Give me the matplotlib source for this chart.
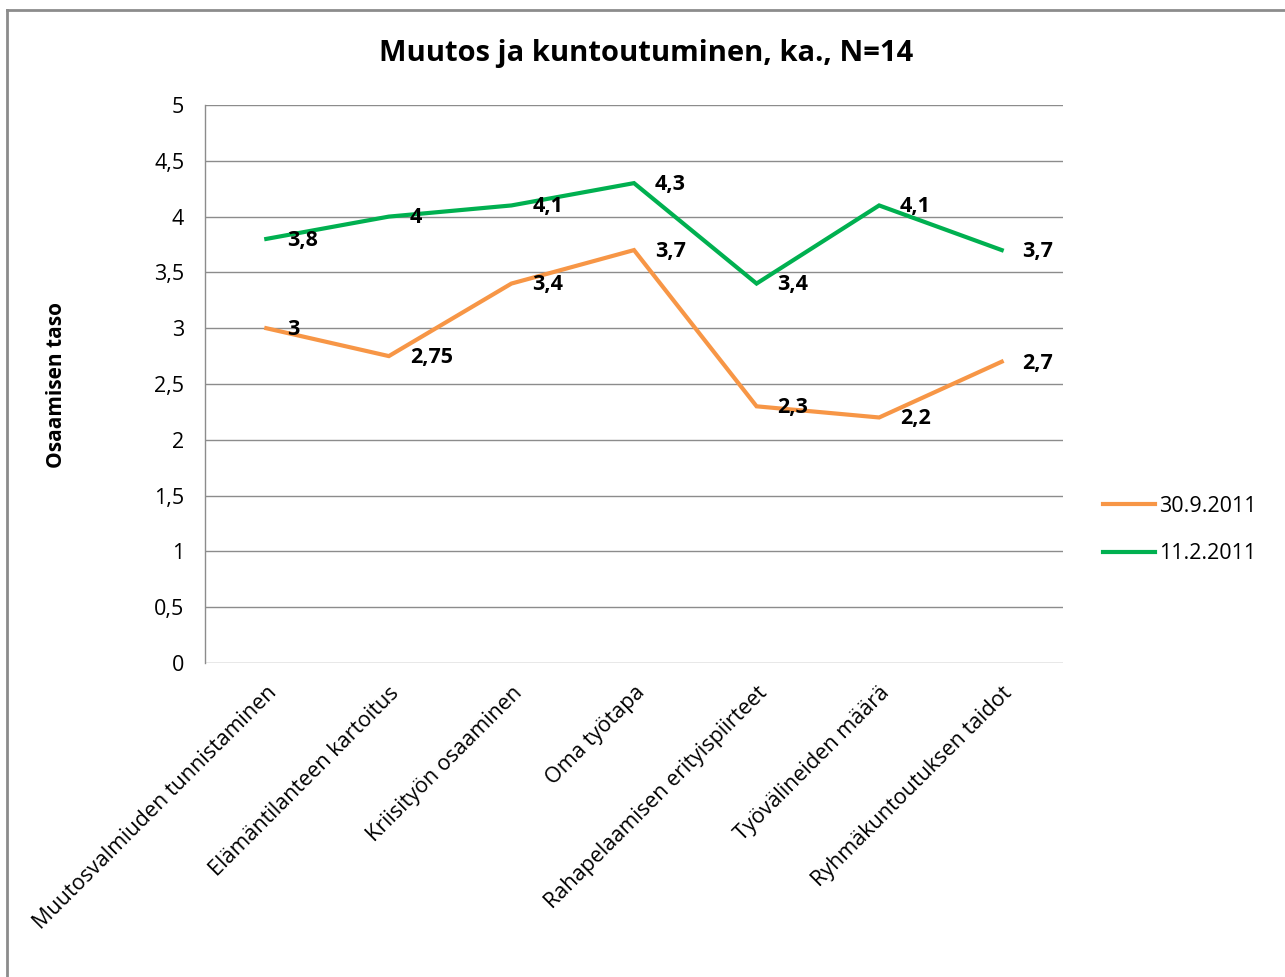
import matplotlib
matplotlib.use('Agg')
import matplotlib.pyplot as plt
from matplotlib.lines import Line2D

plt.rcParams['font.family'] = ['Open Sans', 'DejaVu Sans']

# Data
categories = [
	"Muutosvalmiuden tunnistaminen",
	"Elämäntilanteen kartoitus",
	"Kriisityön osaaminen",
	"Oma työtapa",
	"Rahapelaamisen erityispiirteet",
	"Työvälineiden määrä",
	"Ryhmäkuntoutuksen taidot",
]
autumn = [3, 2.75, 3.4, 3.7, 2.3, 2.2, 2.7]
spring = [3.8, 4, 4.1, 4.3, 3.4, 4.1, 3.7]
autumn_labels = ["3", "2,75", "3,4", "3,7", "2,3", "2,2", "2,7"]
spring_labels = ["3,8", "4", "4,1", "4,3", "3,4", "4,1", "3,7"]
y_ticks = [0, 0.5, 1, 1.5, 2, 2.5, 3, 3.5, 4, 4.5, 5]
y_tick_labels = ["0", "0,5", "1", "1,5", "2", "2,5", "3", "3,5", "4", "4,5", "5"]
series_names = ["30.9.2011", "11.2.2011"]

orange = '#F79646'
green = '#00B050'
grid_col = '#8C8C8C'

fig = plt.figure(figsize=(12.85, 9.77), dpi=100)
W, H = 1285, 977
ax = fig.add_axes([205 / W, 1 - 663 / H, (1063 - 205) / W, (663 - 105) / H])

x = list(range(len(categories)))
ax.plot(x, autumn, color=orange, lw=3, solid_joinstyle='miter', label=series_names[0], zorder=3)
ax.plot(x, spring, color=green, lw=3, solid_joinstyle='miter', label=series_names[1], zorder=3)

# Data labels
for xi, v, t in zip(x, autumn, autumn_labels):
	ax.annotate(t, (xi, v), xytext=(15, -1), textcoords='offset points',
		ha='left', va='center', fontsize=15.5, fontweight='bold', zorder=4)
for xi, v, t in zip(x, spring, spring_labels):
	ax.annotate(t, (xi, v), xytext=(15, -1), textcoords='offset points',
		ha='left', va='center', fontsize=15.5, fontweight='bold', zorder=4)

ax.set_xlim(-0.5, 6.5)
ax.set_ylim(0, 5)
ax.set_yticks(y_ticks)
ax.set_yticklabels(y_tick_labels, fontsize=15.5)
ax.set_xticks(x)
ax.set_xticklabels(categories, fontsize=15.5, rotation=45, ha='right', rotation_mode='anchor')
ax.tick_params(axis='y', length=0, pad=15)
ax.tick_params(axis='x', length=0, pad=14)
ax.grid(axis='y', color=grid_col, lw=1)
ax.set_axisbelow(True)
for s in ['top', 'right', 'bottom']:
	ax.spines[s].set_visible(False)
ax.spines['left'].set_color(grid_col)
ax.spines['left'].set_linewidth(1)

# Titles
fig.text(646 / W, 1 - 53 / H, "Muutos ja kuntoutuminen, ka., N=14", ha='center', va='center',
	fontsize=21, fontweight='bold')
fig.text(57 / W, 1 - 385 / H, "Osaamisen taso", rotation=90, ha='center', va='center',
	fontsize=15, fontweight='bold')

# Legend
fig.legend(loc='center left', bbox_to_anchor=(1084 / W, 1 - 530 / H), frameon=False,
	fontsize=15.5, handlelength=2.4, handletextpad=0.2, labelspacing=1.25)

# Chart frame
fig.add_artist(Line2D([7 / W, 7 / W], [-0.05, 1 - 10 / H], transform=fig.transFigure, color='#8C8C8C', lw=2))
fig.add_artist(Line2D([7 / W, 1.05], [1 - 10 / H, 1 - 10 / H], transform=fig.transFigure, color='#8C8C8C', lw=2))

fig.savefig('out.png', dpi=100)
